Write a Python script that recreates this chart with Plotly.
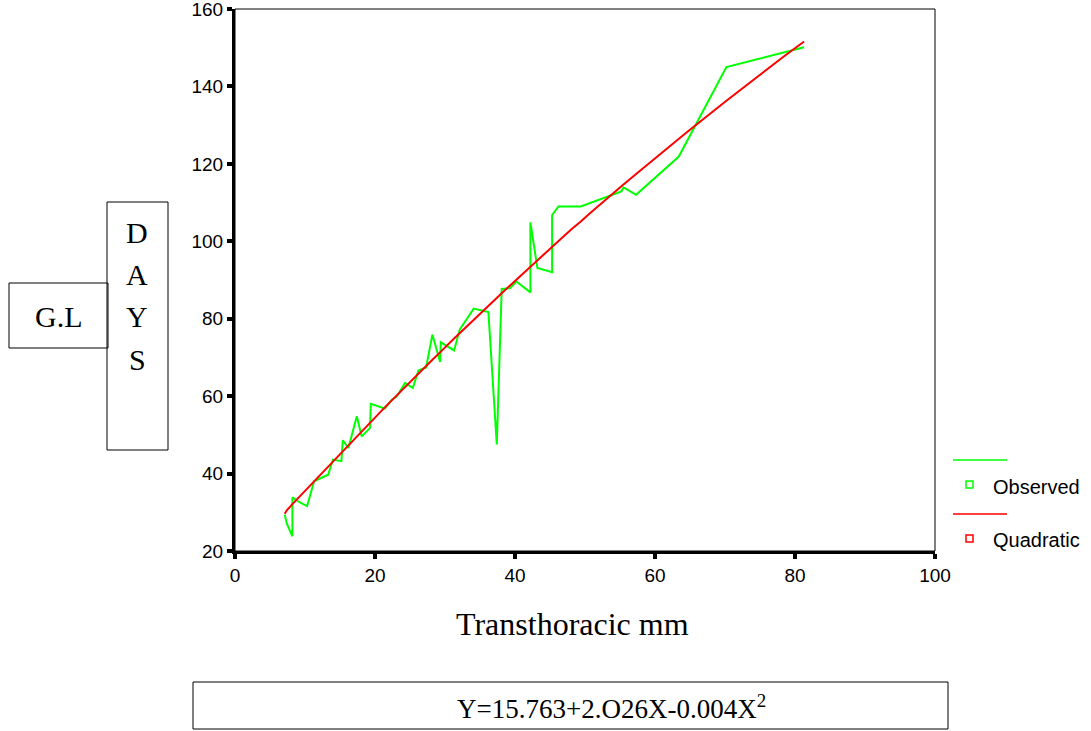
import plotly.graph_objects as go

obs_x = [7.1, 7.4, 8.2, 8.2, 9.2, 10.3, 11.3, 13.3, 14.0, 15.2, 15.4, 16.2, 17.4, 18.1, 19.3, 19.4,
         21.4, 22.4, 23.1, 24.3, 25.4, 26.2, 27.3, 28.2, 29.3, 29.4, 31.3, 32.1, 34.1, 36.2, 37.4,
         38.1, 39.3, 40.2, 42.2, 42.2, 43.2, 45.3, 45.3, 46.2, 49.4, 55.2, 55.5, 57.3, 63.4, 70.2, 81.3]
obs_y = [29.4, 27.1, 23.8, 33.9, 32.6, 31.6, 38.0, 39.7, 43.6, 43.2, 48.6, 46.6, 54.8, 49.6, 51.8, 58.0,
         56.8, 59.1, 59.9, 63.4, 62.1, 66.6, 67.4, 75.9, 68.8, 73.9, 71.8, 77.2, 82.6, 81.7, 47.5,
         87.7, 87.9, 89.6, 86.8, 104.9, 93.1, 92.0, 106.8, 109.0, 109.0, 112.9, 113.9, 112.0, 121.9, 145.0, 150.1]

# Quadratic fit line
quad_x = [7.1, 7.4, 8.2, 9.2, 10.3, 11.3, 13.3, 14.0, 15.2, 15.4, 16.2, 17.4, 18.1, 19.3, 19.4,
          21.4, 22.4, 23.1, 24.3, 25.4, 26.2, 27.3, 28.2, 29.3, 29.4, 31.3, 32.1, 34.1, 36.2, 37.4,
          38.1, 39.3, 40.2, 42.2, 43.2, 45.3, 46.2, 48.1, 49.4, 50.5, 55.2, 55.5, 57.3, 60.5, 63.4,
          64.5, 70.2, 72.1, 76.2, 78.3, 81.3]
quad_y = [29.6, 30.5, 32.1, 34.0, 36.2, 38.1, 41.9, 43.3, 45.5, 45.9, 47.4, 49.7, 51.0, 53.2, 53.4,
          57.1, 58.9, 60.2, 62.4, 64.4, 65.8, 67.8, 69.4, 71.3, 71.5, 74.9, 76.3, 79.7, 83.3, 85.4,
          86.6, 88.6, 90.1, 93.4, 95.1, 98.5, 100.0, 103.2, 105.1, 106.9, 114.2, 114.7, 117.4, 122.2, 126.5,
          128.1, 136.3, 139.0, 144.6, 147.6, 151.6]

x_ticks = [0, 20, 40, 60, 80, 100]
y_ticks = [20, 40, 60, 80, 100, 120, 140, 160]

# the page body margin is removed (post_script), so figure pixels == window pixels
W, H = 1091, 731
L, R, T, B = 235, 935, 9, 551  # plot area in window pixels


def fx(x):
    return x / W


def fy(y):
    return 1 - y / H


fig = go.Figure()
fig.add_trace(go.Scatter(x=obs_x, y=obs_y, mode="lines", line=dict(color="#00FF00", width=2),
                         name="Observed", showlegend=False))
fig.add_trace(go.Scatter(x=quad_x, y=quad_y, mode="lines", line=dict(color="#FF0000", width=2),
                         name="Quadratic", showlegend=False))

tickfont = dict(family="Liberation Sans, Arial, sans-serif", size=19, color="black")
fig.update_xaxes(range=[0, 100], tickvals=x_ticks, showgrid=False, zeroline=False, automargin=False,
                 domain=[fx(L), fx(R)], ticklabeloverflow="allow",
                 showline=True, linewidth=3, linecolor="black", ticks="outside", ticklen=5,
                 tickwidth=4, tickcolor="black", tickfont=tickfont)
fig.update_yaxes(range=[20, 160], tickvals=y_ticks, showgrid=False, zeroline=False, automargin=False,
                 domain=[fy(B), fy(T)], ticklabeloverflow="allow",
                 showline=True, linewidth=3, linecolor="black", ticks="outside", ticklen=5,
                 tickwidth=4, tickcolor="black", tickfont=tickfont)

shapes = []


def rect(x0, y0, x1, y1, color="black", width=1):
    shapes.append(dict(type="rect", xref="paper", yref="paper", x0=fx(x0), x1=fx(x1),
                       y0=fy(y1), y1=fy(y0), line=dict(color=color, width=width)))


def hline(x0, x1, y, color, width=1.5):
    shapes.append(dict(type="line", xref="paper", yref="paper", x0=fx(x0), x1=fx(x1),
                       y0=fy(y), y1=fy(y), line=dict(color=color, width=width)))


rect(L, T, R, B)               # thin frame
rect(9, 283, 108, 348)         # G.L box
rect(107, 202, 168, 450)       # DAYS box
rect(193, 682, 948, 729)       # equation box
hline(953, 1007, 460, "#00FF00")
hline(953, 1007, 514, "#FF0000")
rect(966, 481, 973, 488, "#00FF00", 1.5)
rect(966, 535, 973, 542, "#FF0000", 1.5)

serif = "Liberation Serif, Times New Roman, serif"
ann = []


def text(t, x, y, size, family=serif, xanchor="center"):
    ann.append(dict(text=t, x=fx(x), y=fy(y), xref="paper", yref="paper", xanchor=xanchor,
                    yanchor="middle", showarrow=False, font=dict(family=family, size=size, color="black")))


text("Transthoracic mm", 572, 624, 32)
text("Y=15.763+2.O26X-0.004X<sup>2</sup>", 612, 707, 27)
text("G.L", 59, 316, 30)
for ch, yy in zip(["D", "A", "Y", "S"], [232, 274, 316, 359]):
    text(ch, 137, yy, 30)
sans = "Liberation Sans, Arial, sans-serif"
text("Observed", 991, 487, 20, sans, "left")
text("Quadratic", 991, 540, 20, sans, "left")

fig.update_layout(width=W, height=H, margin=dict(l=0, r=0, t=0, b=0, autoexpand=False),
                  plot_bgcolor="white", paper_bgcolor="white", shapes=shapes, annotations=ann,
                  showlegend=False)

fig.write_html("out.html", config={"displayModeBar": False},
               post_script="document.body.style.margin='0px';document.body.style.overflow='hidden';")
